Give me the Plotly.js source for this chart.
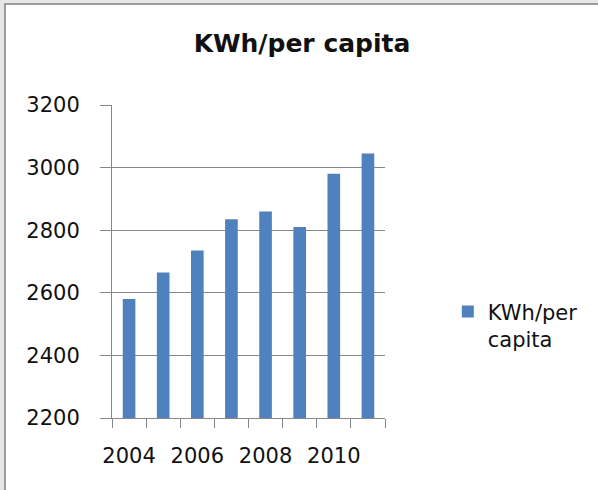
<!DOCTYPE html>
<html>
<head>
<meta charset="utf-8">
<script src="https://cdn.plot.ly/plotly-3.0.1.min.js"></script>
<style>
  html, body { margin: 0; padding: 0; width: 598px; height: 490px; overflow: hidden; background: #e6e6e6; }
  #frame { position: absolute; left: 4px; top: 3px; width: 594px; height: 487px;
           border-left: 2px solid #9c9c9c; border-top: 2px solid #9c9c9c; background: #ffffff; }
  #chart { width: 592px; height: 485px; }
</style>
</head>
<body>
<div id="frame"><div id="chart"></div></div>
<script>
// Electricity consumption per person, by year
const years = [2004, 2005, 2006, 2007, 2008, 2009, 2010, 2011];
const kwhPerCapita = [2580, 2665, 2735, 2835, 2860, 2810, 2980, 3045];
const seriesName = 'KWh/per<br>capita';
const chartTitle = 'KWh/per capita';

const FONT = 'DejaVu Sans, sans-serif';
const GRID = '#878787';
const INK = '#111111';

const trace = {
  type: 'bar',
  x: years,
  y: kwhPerCapita,
  name: seriesName,
  width: 0.37,
  marker: { color: '#4f81bd', line: { width: 0 } },
  showlegend: true,
  hoverinfo: 'x+y'
};

const layout = {
  width: 592,
  height: 485,
  margin: { l: 106, r: 213, t: 100, b: 72 },
  paper_bgcolor: '#ffffff',
  plot_bgcolor: '#ffffff',
  font: { family: FONT, size: 21, color: INK },
  title: {
    text: '<b>' + chartTitle + '</b>',
    font: { family: FONT, size: 25, color: INK },
    x: 0.5, xref: 'container', xanchor: 'center',
    y: 0.922, yref: 'container', yanchor: 'middle'
  },
  showlegend: true,
  legend: {
    x: 1.23, xanchor: 'left',
    y: 0.405, yanchor: 'top',
    valign: 'top',
    font: { family: FONT, size: 21, color: INK },
    itemwidth: 30,
    bgcolor: 'rgba(0,0,0,0)'
  },
  xaxis: {
    type: 'linear',
    range: [2003.5, 2011.5],
    tick0: 2004,
    dtick: 2,
    ticks: '',
    showgrid: false,
    zeroline: false,
    showline: true,
    linecolor: GRID,
    linewidth: 1,
    ticklabelstandoff: 19,
    tickfont: { family: FONT, size: 21, color: INK },
    minor: {
      ticks: 'outside',
      tick0: 2003.5,
      dtick: 1,
      ticklen: 9,
      tickwidth: 1,
      tickcolor: GRID,
      showgrid: false
    },
    fixedrange: true
  },
  yaxis: {
    range: [2200, 3200],
    tick0: 2200,
    dtick: 200,
    ticks: 'outside',
    ticklen: 11,
    tickwidth: 1,
    tickcolor: GRID,
    showgrid: true,
    gridcolor: GRID,
    gridwidth: 1,
    zeroline: false,
    showline: true,
    linecolor: GRID,
    linewidth: 1,
    ticklabelstandoff: 16,
    tickfont: { family: FONT, size: 21, color: INK },
    fixedrange: true
  },
  bargap: 0.63
};

Plotly.newPlot('chart', [trace], layout, { staticPlot: true, displayModeBar: false });
</script>
</body>
</html>
